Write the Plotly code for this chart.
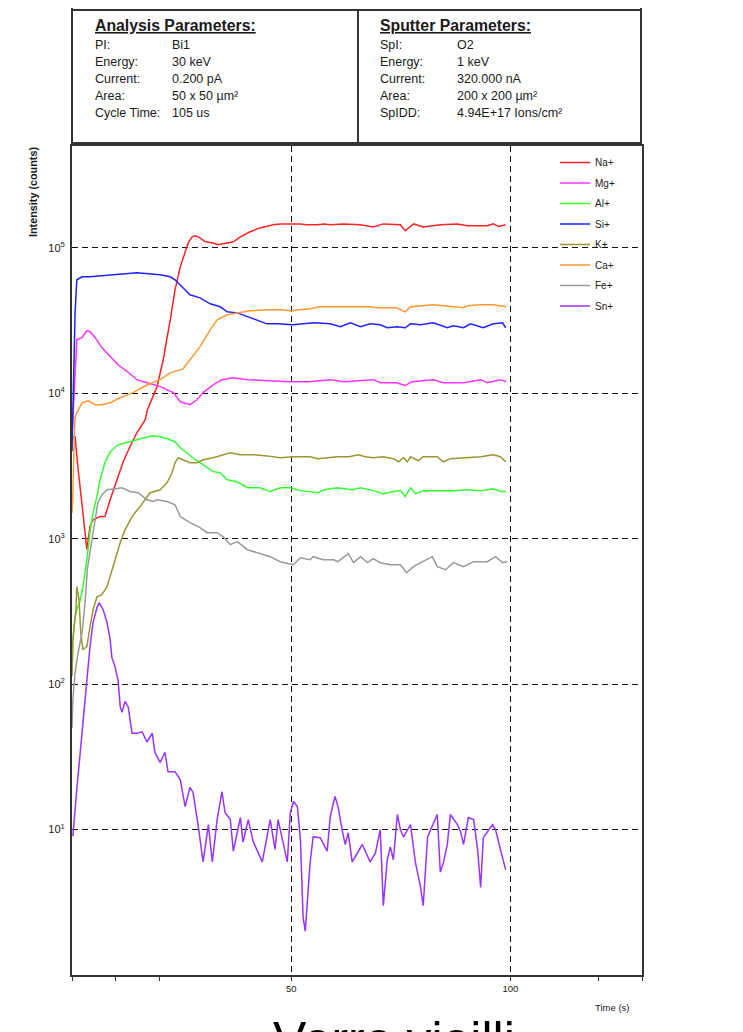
import plotly.graph_objects as go

# ---------------- data ----------------
na_t = [0, 0.7, 1.4, 2.3, 3.0, 3.4, 4.1, 4.8, 6.4, 7.5, 8.7, 10.3, 11.6, 13.2, 14.8, 16.7, 17.2, 19.4, 20.8, 22.4,
        23.5, 24.7, 25.8, 26.5, 27.4, 28.1, 29.2, 30.4, 32.2, 33.3, 35.4, 36.8, 38.4, 40.6, 42.9, 45.9, 47.5, 49.8,
        52.1, 53.5, 55.9, 57.5, 58.9, 61.9, 65.8, 68.7, 71.0, 74.9, 76.0, 77.9, 80.1, 84.0, 87.9, 90.2, 94.7, 96.1,
        97.3, 98.9]
na_v = [5000, 5000, 3000, 1660, 985, 840, 1210, 1350, 1420, 1420, 1850, 2540, 3330, 4290, 5350, 6580, 7710, 11100,
        17000, 32000, 51400, 74000, 92400, 108000, 119000, 121000, 117000, 110000, 108000, 105000, 108000, 110000,
        119000, 129000, 137000, 144000, 146000, 146000, 146000, 144000, 144000, 146000, 144000, 146000, 144000,
        139000, 146000, 144000, 131000, 146000, 139000, 144000, 146000, 142000, 142000, 146000, 140000, 144000]

mg_t = [0, 0.4, 0.7, 1.1, 2.3, 3.4, 4.1, 5.3, 6.8, 8.7, 10.5, 12.6, 14.8, 17.1, 20.1, 23.1, 24.7, 26.9, 28.5, 29.9,
        32.2, 34.2, 36.8, 40.0, 44.5, 49.8, 54.0, 58.9, 62.0, 68.7, 70.3, 74.0, 76.0, 77.5, 82.4, 84.7, 89.3, 93.2,
        94.7, 97.7, 99.0]
mg_v = [5000, 9000, 14500, 23300, 24100, 26900, 26500, 24100, 20600, 17800, 15700, 14100, 12400, 11800, 11100,
        10100, 8740, 8340, 9020, 10100, 11400, 12400, 12800, 12400, 12200, 12000, 12000, 12400, 12000, 12400, 11800,
        11800, 11300, 12000, 12400, 11800, 11800, 12400, 11800, 12400, 12000]

al_t = [0, 0.2, 0.7, 1.1, 1.8, 2.5, 3.4, 4.1, 4.8, 5.7, 6.4, 7.5, 8.7, 10.5, 13.2, 15.5, 18.5, 20.1, 21.7, 23.5,
        24.7, 25.8, 26.9, 28.1, 29.9, 32.2, 33.8, 35.4, 37.7, 40.0, 42.9, 45.2, 47.5, 49.8, 52.1, 54.3, 56.1, 57.5,
        60.5, 63.9, 65.8, 68.7, 71.0, 73.3, 74.9, 76.0, 77.2, 78.3, 80.1, 84.0, 87.0, 90.2, 93.2, 96.1, 97.7, 98.9]
al_v = [120, 200, 291, 325, 369, 468, 717, 1100, 1510, 1950, 2540, 3330, 3960, 4420, 4640, 4870, 5100, 5020, 4870,
        4640, 4220, 3960, 3770, 3490, 3230, 2890, 2840, 2540, 2460, 2240, 2240, 2110, 2240, 2240, 2140, 2110, 2070,
        2170, 2240, 2170, 2240, 2140, 2040, 2110, 2140, 1950, 2240, 2040, 2140, 2140, 2140, 2170, 2140, 2200, 2110,
        2110]

si_t = [0, 0.4, 0.7, 1.1, 2.3, 4.1, 6.8, 8.7, 14.8, 20.1, 22.4, 23.5, 25.1, 26.9, 29.2, 31.5, 33.8, 35.4, 37.7,
        40.0, 42.9, 44.5, 46.8, 50.5, 55.0, 58.9, 61.2, 63.5, 65.8, 68.0, 70.3, 71.9, 74.2, 76.0, 77.2, 79.5, 82.4,
        85.6, 87.0, 89.3, 90.9, 93.8, 96.1, 98.2, 98.9]
si_v = [4000, 14500, 35700, 60300, 63200, 63200, 64200, 65200, 67300, 65200, 63200, 60300, 54000, 47500, 45300,
        41200, 39300, 36300, 35700, 33600, 31000, 30000, 30000, 29600, 30500, 30000, 28700, 30500, 28700, 30000,
        29600, 28200, 28700, 28200, 30000, 29600, 30500, 28200, 29100, 28200, 30000, 28200, 30000, 30500, 28200]

k_t = [0, 0.2, 0.9, 1.1, 1.6, 2.0, 2.5, 3.4, 4.1, 4.8, 5.7, 6.8, 8.0, 9.1, 10.3, 11.0, 12.1, 13.7, 15.5, 16.7,
       17.8, 20.1, 21.7, 22.8, 23.5, 24.2, 25.3, 26.9, 28.5, 29.9, 32.2, 34.5, 36.1, 38.4, 41.3, 44.5, 47.5, 50.5,
       54.3, 56.1, 60.5, 63.2, 65.3, 66.9, 68.7, 71.0, 73.3, 74.5, 75.6, 76.5, 77.2, 79.0, 80.1, 83.3, 84.7, 86.3,
       90.2, 93.2, 96.1, 97.7, 98.9]
k_v = [113, 202, 325, 468, 381, 226, 173, 181, 248, 325, 399, 412, 468, 612, 802, 940, 1150, 1420, 1660, 1850,
       2070, 2170, 2430, 2840, 3330, 3600, 3490, 3330, 3330, 3490, 3600, 3780, 3900, 3780, 3780, 3710, 3600, 3660,
       3660, 3550, 3660, 3660, 3780, 3660, 3600, 3660, 3550, 3380, 3600, 3380, 3660, 3440, 3660, 3660, 3380, 3550,
       3600, 3660, 3780, 3660, 3380]

ca_t = [0, 0.2, 0.5, 0.7, 1.1, 2.3, 3.7, 5.3, 6.8, 8.7, 11.0, 13.9, 17.1, 20.1, 22.4, 25.3, 26.9, 29.2, 31.5, 33.1,
        35.4, 37.7, 40.6, 44.5, 47.5, 49.8, 54.3, 56.6, 61.9, 68.0, 69.6, 74.0, 76.0, 77.2, 82.4, 87.0, 89.3, 90.2,
        93.2, 96.1, 99.0]
ca_v = [1500, 2000, 5000, 6880, 7340, 8610, 8880, 8340, 8340, 8610, 9310, 10100, 11400, 12400, 13800, 14700, 17000,
        20900, 27300, 32000, 34600, 35700, 36900, 37500, 37500, 36900, 38100, 39300, 39300, 39300, 38700, 38700,
        36300, 39300, 40600, 39300, 38700, 39900, 40600, 40600, 39300]

fe_t = [0, 0.2, 0.7, 1.4, 2.3, 3.0, 3.5, 4.5, 5.3, 5.9, 6.8, 8.0, 10.3, 11.4, 13.2, 15.1, 17.1, 18.5, 19.4, 21.7,
        23.5, 24.7, 25.8, 26.9, 29.2, 30.8, 33.1, 34.5, 36.1, 37.7, 40.0, 42.2, 45.2, 47.5, 50.5, 52.1, 54.3, 55.0,
        57.3, 59.6, 60.7, 63.0, 64.2, 65.8, 67.4, 68.7, 70.3, 72.6, 74.9, 76.3, 77.9, 79.5, 82.2, 83.3, 85.2, 87.0,
        89.3, 91.6, 94.7, 96.6, 98.2, 99.3]
fe_v = [50, 78, 120, 165, 226, 370, 620, 985, 1350, 1770, 2000, 2170, 2210, 2240, 2110, 2070, 1850, 1800, 1850,
        1800, 1710, 1420, 1350, 1290, 1190, 1100, 1100, 1030, 910, 954, 840, 801, 752, 695, 662, 740, 717, 752, 717,
        717, 695, 789, 684, 752, 684, 729, 684, 662, 662, 583, 642, 684, 752, 642, 612, 684, 642, 695, 695, 752, 684,
        695]

sn_t = [0.2, 0.5, 1.1, 1.8, 2.5, 3.4, 4.1, 4.8, 5.7, 6.2, 7.1, 8.0, 8.7, 9.1, 9.8, 10.5, 11.0, 11.4, 12.1, 12.8,
        13.7, 14.8, 16.0, 17.1, 18.3, 18.9, 20.1, 21.2, 21.9, 23.5, 24.7, 25.8, 26.9, 27.6, 28.8, 29.9, 31.1, 32.0,
        33.1, 34.2, 34.9, 36.1, 36.8, 38.4, 39.0, 40.2, 41.3, 43.4, 45.2, 46.3, 47.0, 48.2, 49.1, 49.8, 50.5, 51.4,
        52.1, 52.7, 53.2, 53.9, 54.3, 55.0, 56.6, 58.2, 58.9, 60.0, 60.7, 61.6, 62.3, 63.0, 63.9, 65.1, 66.2, 68.0,
        69.2, 70.3, 71.0, 71.9, 72.6, 73.3, 74.2, 74.9, 75.6, 77.2, 78.3, 79.5, 80.1, 81.1, 82.4, 83.3, 84.0, 84.7,
        85.6, 86.3, 87.9, 88.6, 89.3, 90.4, 91.6, 92.5, 93.2, 93.8, 95.9, 96.6, 97.7, 98.9]
sn_v = [9, 12, 19, 32, 57, 107, 181, 265, 336, 363, 325, 265, 202, 152, 132, 107, 70, 64, 76, 70, 46, 46, 47, 40,
        46, 34, 29, 34, 25, 25, 22, 14.4, 19.5, 18, 10.5, 6, 10.8, 6, 11.7, 18.2, 13.1, 11.7, 7.1, 12.1, 8.2, 11.7,
        8.3, 6, 11.7, 7.3, 11.7, 8.2, 6, 13.1, 15.6, 14.4, 8.5, 2.5, 2.0, 4.0, 5.9, 8.9, 8.8, 7.1, 12.3, 16.9, 14.2,
        10, 7.9, 9.5, 6.0, 6.9, 7.9, 6.0, 6.9, 10, 3.0, 6.2, 7.6, 6.2, 12.7, 10, 8.9, 10.8, 6.0, 4.0, 3.0, 8.9, 10.8,
        12.7, 5.1, 5.9, 7.9, 12.7, 10.8, 9.7, 7.9, 12.1, 11.7, 7.3, 4.0, 8.8, 10.8, 10, 7.3, 5.3]

series_names = ["Na+", "Mg+", "Al+", "Si+", "K+", "Ca+", "Fe+", "Sn+"]
series_colors = ["#ff2222", "#ff33ff", "#33ff33", "#2222ff", "#9a9630", "#ff9933", "#999999", "#9933ff"]
series_data = [(na_t, na_v), (mg_t, mg_v), (al_t, al_v), (si_t, si_v),
               (k_t, k_v), (ca_t, ca_v), (fe_t, fe_v), (sn_t, sn_v)]

y_tickvals = [10, 100, 1000, 10000, 100000]
y_ticktext = ["10<sup>1</sup>", "10<sup>2</sup>", "10<sup>3</sup>", "10<sup>4</sup>", "10<sup>5</sup>"]
x_tickvals = [50, 100]
x_ticktext = ["50", "100"]
x_minor_ticks = [0, 10, 20, 120, 130]

analysis_labels = ["PI:", "Energy:", "Current:", "Area:", "Cycle Time:"]
analysis_values = ["Bi1", "30 keV", "0.200 pA", "50 x 50 µm²", "105 us"]
sputter_labels = ["SpI:", "Energy:", "Current:", "Area:", "SpIDD:"]
sputter_values = ["O2", "1 keV", "320.000 nA", "200 x 200 µm²", "4.94E+17 Ions/cm²"]

# ---------------- layout helpers (window pixel -> paper) ----------------
OFF = 8                      # default page margin of the html body
WIN_W, WIN_H = 743, 1032
W, H = WIN_W - OFF, WIN_H - OFF
PLOT_L, PLOT_R, PLOT_T, PLOT_B = 72, 642, 146, 975   # plot box in window pixels
L, R = PLOT_L - OFF, WIN_W - PLOT_R
T, B = PLOT_T - OFF, WIN_H - PLOT_B
PW, PH = PLOT_R - PLOT_L, PLOT_B - PLOT_T


def px(X):
    return (X - PLOT_L) / PW


def py(Y):
    return (PLOT_B - Y) / PH


FONT = "Liberation Sans, Arial, sans-serif"
TXT = "#1a1a1a"
GRID = "6px,4px"

fig = go.Figure()
for name, color, (t, v) in zip(series_names, series_colors, series_data):
    fig.add_trace(go.Scatter(x=t, y=v, mode="lines", name=name, legendgroup=name,
                             line=dict(color=color, width=1.5)))

annotations = []


def add_text(text, X, Y, size, bold=False, under=False, xanchor="left", yanchor="middle",
             angle=0, color=TXT):
    if bold:
        text = "<b>" + text + "</b>"
    if under:
        text = "<u>" + text + "</u>"
    annotations.append(dict(text=text, x=px(X), y=py(Y), xref="paper", yref="paper",
                            xanchor=xanchor, yanchor=yanchor, showarrow=False, textangle=angle,
                            font=dict(family=FONT, size=size, color=color)))


add_text("Analysis Parameters:", 93, 25, 15.8, bold=True, under=True)
add_text("Sputter Parameters:", 378, 25, 15.8, bold=True, under=True)
rows_y = [45, 62, 79, 96, 113]
for lab, val, yy in zip(analysis_labels, analysis_values, rows_y):
    add_text(lab, 93, yy, 12.5)
    add_text(val, 170, yy, 12.5)
for lab, val, yy in zip(sputter_labels, sputter_values, rows_y):
    add_text(lab, 378, yy, 12.5)
    add_text(val, 455, yy, 12.5)

add_text("Intensity (counts)", 33, 192, 10.8, bold=True, xanchor="center", angle=-90)
add_text("Time (s)", 612, 1007, 9.5, xanchor="center")
add_text("Verre vieilli", 394, 1010, 50, xanchor="center", yanchor="top", color="#000000")

shapes = [
    dict(type="rect", xref="paper", yref="paper", x0=px(72), x1=px(641), y0=py(143), y1=py(10),
         line=dict(color="#333333", width=2)),
    dict(type="line", xref="paper", yref="paper", x0=px(358), x1=px(358), y0=py(143), y1=py(10),
         line=dict(color="#333333", width=2)),
    dict(type="line", xref="paper", yref="paper", x0=px(72), x1=px(72), y0=py(10), y1=py(2),
         line=dict(color="#333333", width=2)),
    dict(type="line", xref="paper", yref="paper", x0=px(641), x1=px(641), y0=py(10), y1=py(0),
         line=dict(color="#333333", width=2)),
]

fig.update_layout(
    width=W, height=H, autosize=False,
    margin=dict(l=L, r=R, t=T, b=B, pad=0),
    paper_bgcolor="white", plot_bgcolor="white",
    font=dict(family=FONT, color=TXT),
    showlegend=True,
    legend=dict(x=px(555), y=py(148), xanchor="left", yanchor="top",
                bgcolor="rgba(0,0,0,0)", font=dict(size=10, family=FONT, color=TXT),
                traceorder="grouped", tracegroupgap=1.5, itemwidth=30),
    xaxis=dict(range=[0, 130], tickmode="array", tickvals=x_tickvals, ticktext=x_ticktext,
               ticks="outside", ticklen=4, tickwidth=1, tickcolor="#333333",
               tickfont=dict(size=9.5, family=FONT, color=TXT),
               showgrid=True, gridcolor="#111111", gridwidth=1.3, griddash=GRID,
               showline=True, linecolor="#333333", linewidth=2, mirror=True, zeroline=False,
               minor=dict(tickmode="array", tickvals=x_minor_ticks, ticks="outside", ticklen=4,
                          tickcolor="#333333", showgrid=False)),
    yaxis=dict(type="log", range=[0, 5.7], tickmode="array", tickvals=y_tickvals, ticktext=y_ticktext,
               ticks="", tickfont=dict(size=11, family=FONT, color=TXT), ticklabelstandoff=3,
               showgrid=True, gridcolor="#111111", gridwidth=1.3, griddash=GRID,
               showline=True, linecolor="#333333", linewidth=2, mirror=True, zeroline=False),
    annotations=annotations,
    shapes=shapes,
)

fig.write_html("out.html")
